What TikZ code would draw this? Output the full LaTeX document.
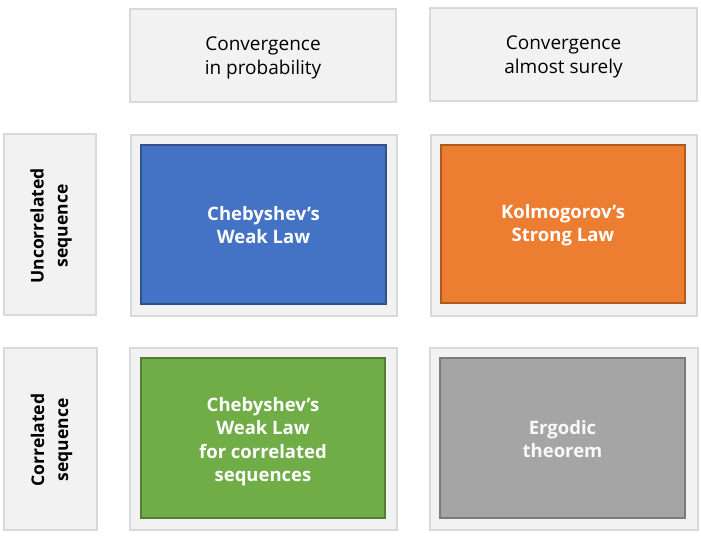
\documentclass[tikz,border=0pt]{standalone}
\usepackage{fontspec}
\setmainfont{Open Sans}
\definecolor{lightfill}{HTML}{F2F2F2}
\definecolor{lightline}{HTML}{D9D9D9}
\definecolor{cblue}{HTML}{4472C4}
\definecolor{cblueb}{HTML}{2F528F}
\definecolor{corange}{HTML}{ED7D31}
\definecolor{corangeb}{HTML}{AE5A21}
\definecolor{cgreen}{HTML}{70AD47}
\definecolor{cgreenb}{HTML}{507E32}
\definecolor{cgray}{HTML}{A5A5A5}
\definecolor{cgrayb}{HTML}{7B7B7B}
\begin{document}
\begin{tikzpicture}[x=1pt,y=-1pt,
  panel/.style={draw=lightline,fill=lightfill,line width=1.5pt},
  inner/.style={line width=1.5pt,font=\fontsize{18.5}{23.5}\selectfont\bfseries,text=white,align=center},
  head/.style={font=\fontsize{19}{24}\selectfont,align=center,text=black},
  side/.style={font=\fontsize{17.5}{24}\selectfont\bfseries,align=center,rotate=90,text=black}]
\useasboundingbox (0,0) rectangle (701,540);
% headers
\draw[panel] (130,9) rectangle (396,102);
\node[head] (h1) at (263,58) {Convergence\\in probability};
\draw[panel] (430,8) rectangle (697,101);
\node[head] (h2) at (563.5,57) {Convergence\\almost surely};
% row labels
\draw[panel] (4,134) rectangle (96,315);
\node[side] (r1) at (51,226) {Uncorrelated\\sequence};
\draw[panel] (4,348) rectangle (97,530);
\node[side] (r2) at (51.5,440) {Correlated\\sequence};
% cells
\draw[panel] (131,135) rectangle (397,316);
\draw[inner,draw=cblueb,fill=cblue] (141,145) rectangle (386,304);
\node[inner] (c1) at (263.5,225) {Chebyshev’s\\Weak Law};
\draw[panel] (431,135) rectangle (697,316);
\draw[inner,draw=corangeb,fill=corange] (441,145) rectangle (685,303);
\node[inner] (c2) at (563,225) {Kolmogorov’s\\Strong Law};
\draw[panel] (130,348) rectangle (397,530);
\draw[inner,draw=cgreenb,fill=cgreen] (141,358) rectangle (385,518);
\node[inner] (c3) at (263,441.5) {Chebyshev’s\\Weak Law\\for correlated\\sequences};
\draw[panel] (430,348) rectangle (698,530);
\draw[inner,draw=cgrayb,fill=cgray] (440,358) rectangle (685,518);
\node[inner,text=white!95!gray] (c4) at (562.5,439) {Ergodic\\theorem};
\end{tikzpicture}
\end{document}
